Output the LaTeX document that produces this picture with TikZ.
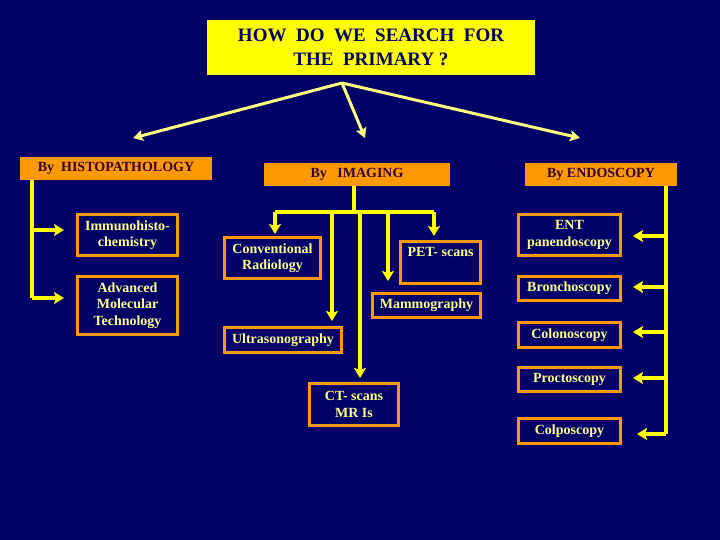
\documentclass[tikz,border=0pt]{standalone}
\usepackage{fontspec}
\setmainfont{Liberation Serif}
\usetikzlibrary{arrows.meta}
\definecolor{navy}{RGB}{0,0,102}
\definecolor{ylw}{RGB}{255,255,0}
\definecolor{paley}{RGB}{255,255,128}
\definecolor{txty}{RGB}{255,255,140}
\definecolor{orng}{RGB}{255,153,0}
\definecolor{htxt}{RGB}{51,0,51}
\begin{document}
\begin{tikzpicture}[x=1pt,y=-1pt,
  titlebox/.style={fill=ylw,draw=none,text=navy,font=\bfseries\fontsize{19}{24}\selectfont,align=center,inner sep=0pt},
  headbox/.style={fill=orng,draw=none,text=htxt,font=\bfseries\fontsize{14}{15}\selectfont,align=center,inner sep=0pt},
  leafbox/.style={draw=orng,line width=3pt,fill=navy,text=txty,font=\bfseries\fontsize{14}{16.5}\selectfont,align=center,inner sep=0pt},
  conn/.style={draw=ylw,line width=3.5pt,-{Stealth[length=10pt,width=12pt,inset=2pt]}},
  line/.style={draw=ylw,line width=3.5pt},
  tarrow/.style={draw=paley,line width=3pt,-{Stealth[length=10pt,width=11pt,inset=2pt]}}]
\fill[navy] (0,0) rectangle (720,540);
\useasboundingbox (0,0) rectangle (720,540);

\node[titlebox,minimum width=328pt,minimum height=55pt] (title) at (371,47.5) {HOW\ \ DO\ \ WE\ \ SEARCH\ \ FOR\\THE\ \ PRIMARY ?};

\node[headbox,minimum width=192pt,minimum height=23pt] (histo) at (116,168.5) {By\ \ HISTOPATHOLOGY};
\node[headbox,minimum width=186pt,minimum height=23pt] (imaging) at (357,174.5) {By\ \ \ IMAGING};
\node[headbox,minimum width=152pt,minimum height=23pt] (endo) at (601,174.5) {By\ ENDOSCOPY};

\node[leafbox,minimum width=100pt,minimum height=41pt] (immuno) at (127.5,235) {Immunohisto-\\chemistry};
\node[leafbox,minimum width=100pt,minimum height=58pt] (adv) at (127.5,305.5) {Advanced\\Molecular\\Technology};

\node[leafbox,minimum width=96pt,minimum height=41pt] (conv) at (272.5,258) {Conventional\\Radiology};
\node[leafbox,minimum width=80pt,minimum height=42pt] (pet) at (440.5,262.5) {PET- scans\\\strut};
\node[leafbox,minimum width=108pt,minimum height=24pt] (mammo) at (426.5,305.5) {Mammography};
\node[leafbox,minimum width=117pt,minimum height=25pt] (ultra) at (283,340) {Ultrasonography};
\node[leafbox,minimum width=89pt,minimum height=42pt] (ct) at (354,404.5) {CT- scans\\MR Is};

\node[leafbox,minimum width=102pt,minimum height=41pt] (ent) at (569.5,235) {ENT\\panendoscopy};
\node[leafbox,minimum width=102pt,minimum height=24pt] (broncho) at (569.5,288.5) {Bronchoscopy};
\node[leafbox,minimum width=102pt,minimum height=25pt] (colono) at (569.5,335) {Colonoscopy};
\node[leafbox,minimum width=102pt,minimum height=24pt] (procto) at (569.5,379.5) {Proctoscopy};
\node[leafbox,minimum width=102pt,minimum height=25pt] (colpo) at (569.5,431) {Colposcopy};

% title arrows
\coordinate (apex) at (342,83);
\coordinate (tl) at (133,138);
\coordinate (tm) at (365,138);
\coordinate (tr) at (580,138);
\draw[tarrow] (apex) -- (tl);
\draw[tarrow] (apex) -- (tm);
\draw[tarrow] (apex) -- (tr);

% histopathology
\coordinate (hbot) at (32,298);
\draw[line] (histo.south -| hbot) -- (hbot);
\draw[conn] (32,230) -- ([xshift=-12pt]immuno.west |- 0,230);
\draw[conn] (hbot) -- ([xshift=-12pt]adv.west |- hbot);

% imaging
\coordinate (ibar) at (354,212);
\draw[line] (imaging.south -| ibar) -- (ibar);
\draw[line] (275,212) -- (434,212);
\draw[conn] (275,212) -- ([yshift=2pt]conv.north -| 275,0);
\draw[conn] (332,212) -- ([yshift=5pt]ultra.north -| 332,0);
\draw[conn] (360,212) -- ([yshift=4pt]ct.north -| 360,0);
\draw[conn] (388,212) -- ([yshift=11pt]mammo.north -| 388,0);
\draw[conn] (434,212) -- ([yshift=4pt]pet.north -| 434,0);

% endoscopy
\coordinate (ebot) at (666,434);
\draw[line] (endo.south -| ebot) -- (ebot);
\draw[conn] (666,236) -- ([xshift=11pt]ent.east |- 0,236);
\draw[conn] (666,287) -- ([xshift=11pt]broncho.east |- 0,287);
\draw[conn] (666,332) -- ([xshift=11pt]colono.east |- 0,332);
\draw[conn] (666,378) -- ([xshift=11pt]procto.east |- 0,378);
\draw[conn] (ebot) -- ([xshift=15pt]colpo.east |- ebot);
\end{tikzpicture}
\end{document}
